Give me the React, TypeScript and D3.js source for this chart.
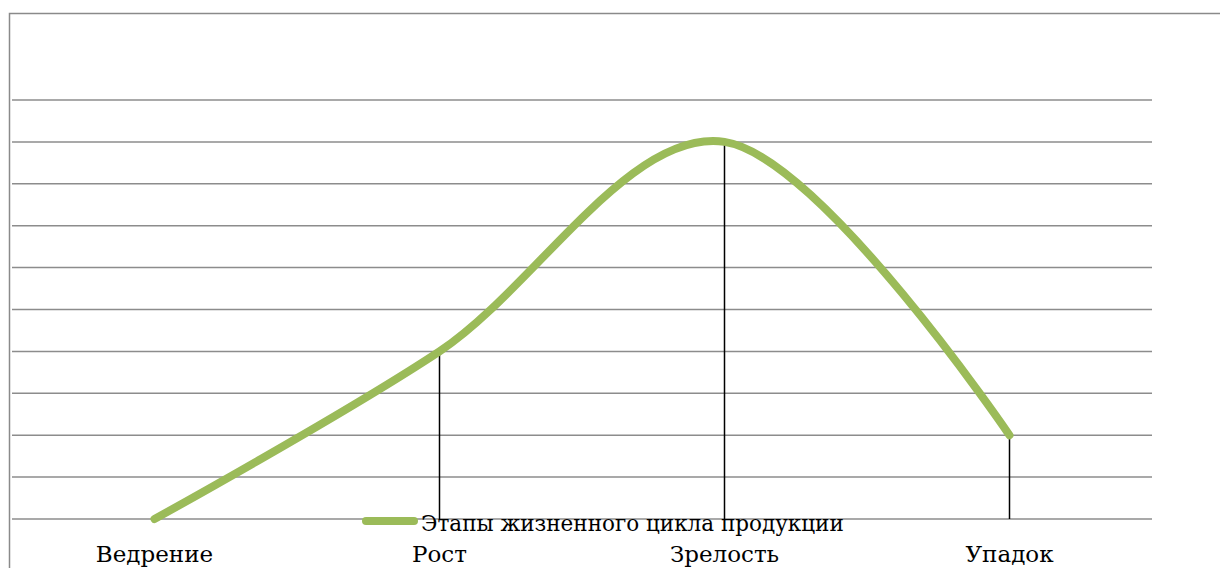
import React from 'react';
import * as d3 from 'd3';

const categories = ['Ведрение', 'Рост', 'Зрелость', 'Упадок'];
const values = [0, 4, 9, 2];
const yTicks = [0, 1, 2, 3, 4, 5, 6, 7, 8, 9, 10];
const seriesName = 'Этапы жизненного цикла продукции';

const W = 1220;
const H = 568;
const plot = { left: 12, right: 1152, top: 100, bottom: 519 };
const font = '"DejaVu Serif", serif';

export default function App() {
  const x = d3
    .scaleBand<string>()
    .domain(categories)
    .range([plot.left, plot.right]);
  const y = d3.scaleLinear().domain([0, 10]).range([plot.bottom, plot.top]);

  const cx = (c: string) => (x(c) ?? 0) + x.bandwidth() / 2;

  const line = d3
    .line<number>()
    .x((_, i) => cx(categories[i]))
    .y(d => y(d))
    .curve(d3.curveCatmullRom.alpha(0));

  return (
    <svg
      width={W}
      height={H}
      style={{ position: 'absolute', left: 0, top: 0, background: '#fff' }}
    >
      {/* chart border */}
      <path
        d={`M9.5,${H} V13.5 H${W}`}
        fill="none"
        stroke="#8a8a8a"
        strokeWidth={1.5}
      />

      {/* gridlines */}
      {yTicks.map(t => (
        <line
          key={t}
          x1={plot.left}
          x2={plot.right}
          y1={y(t)}
          y2={y(t)}
          stroke="#8c8c8c"
          strokeWidth={1.5}
        />
      ))}

      {/* drop lines */}
      {values.map((v, i) =>
        v > 0 ? (
          <line
            key={i}
            x1={cx(categories[i])}
            x2={cx(categories[i])}
            y1={y(v)}
            y2={y(0)}
            stroke="#000"
            strokeWidth={1.5}
          />
        ) : null
      )}

      {/* series */}
      <path
        d={line(values) ?? ''}
        fill="none"
        stroke="#9bbb59"
        strokeWidth={8}
        strokeLinecap="round"
        strokeLinejoin="round"
      />

      {/* category labels */}
      {categories.map(c => (
        <text
          key={c}
          x={cx(c)}
          y={562}
          textAnchor="middle"
          fontFamily={font}
          fontSize={23}
          fill="#000"
        >
          {c}
        </text>
      ))}

      {/* legend */}
      <line
        x1={366}
        x2={414}
        y1={521}
        y2={521}
        stroke="#9bbb59"
        strokeWidth={8}
        strokeLinecap="round"
      />
      <text x={421} y={531} fontFamily={font} fontSize={21.5} fill="#000">
        {seriesName}
      </text>
    </svg>
  );
}
